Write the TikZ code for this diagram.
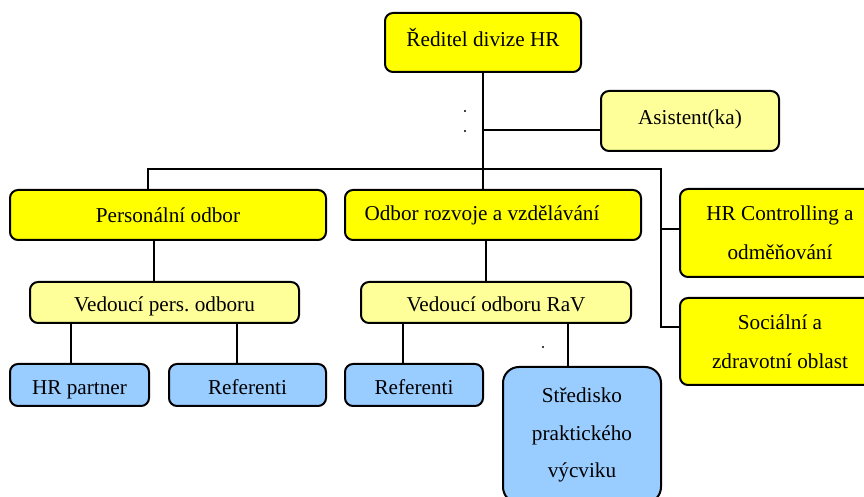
\documentclass[tikz,border=0pt]{standalone}
\usepackage{fontspec}
\setmainfont{Liberation Serif}
\definecolor{yel}{HTML}{FFFF00}
\definecolor{lyel}{HTML}{FFFF99}
\definecolor{lblue}{HTML}{99CCFF}
\begin{document}
\begin{tikzpicture}[x=0.5pt,y=-0.5pt,
  box/.style={draw, line width=1pt, rounded corners=4pt, inner sep=0pt, align=center,
    font=\fontsize{10.6pt}{19.5pt}\selectfont},
  low/.style={text height=9.2pt, text depth=0pt},
  high/.style={text height=4pt, text depth=0pt},
  conn/.style={line width=0.8pt}]
\clip (0,0) rectangle (864,497);
\fill[white] (0,0) rectangle (864,497);
% nodes
\node[box, high, fill=yel, minimum width=98pt, minimum height=29.5pt] (red) at (483,42.5) {Ředitel divize HR};
\node[box, high, fill=lyel, minimum width=89pt, minimum height=30pt] (asi) at (690,121) {Asistent(ka)};
\node[box, fill=yel, minimum width=158pt, minimum height=25pt] (pers) at (168,215) {Personální odbor};
\node[box, fill=yel, minimum width=148pt, minimum height=25pt] (rozv) at (493,215) {Odbor rozvoje a vzdělávání\hspace*{11pt}};
\node[box, fill=yel, minimum width=100pt, minimum height=44pt] (hrc) at (780,233) {HR Controlling a\\odměňování};
\node[box, fill=yel, minimum width=100pt, minimum height=43.5pt] (soc) at (780,341.5) {Sociální a\\zdravotní oblast};
\node[box, low, fill=lyel, minimum width=134.5pt, minimum height=20.5pt] (vedp) at (164.5,302.5) {Vedoucí pers.\ odboru};
\node[box, low, fill=lyel, minimum width=135pt, minimum height=20.5pt] (vedr) at (496,302.5) {Vedoucí odboru RaV};
\node[box, low, fill=lblue, minimum width=69.5pt, minimum height=21pt] (hrp) at (79.5,385) {HR partner};
\node[box, low, fill=lblue, minimum width=78.5pt, minimum height=21pt] (ref1) at (247.5,385) {Referenti};
\node[box, low, fill=lblue, minimum width=69pt, minimum height=21pt] (ref2) at (414,385) {Referenti};
\node[box, fill=lblue, rounded corners=8pt, minimum width=79pt, minimum height=68pt,
  font=\fontsize{10.6pt}{18.75pt}\selectfont] (str) at (582,435) {Středisko\\praktického\\výcviku};
% helper coordinates
\coordinate (busL) at (148,169);
\coordinate (busR) at (661,169);
\coordinate (xp) at (154,0);
\coordinate (xr) at (486,0);
\coordinate (x1) at (71,0);
\coordinate (x2) at (237,0);
\coordinate (x3) at (403,0);
\coordinate (x4) at (568,0);
\coordinate (asiin) at ([yshift=-4.5pt]asi.west);
\coordinate (hrcin) at ([yshift=2pt]hrc.west);
\coordinate (socin) at ([yshift=7.25pt]soc.west);
% connectors
\draw[conn] (red.south) -- (red.south |- rozv.north);
\draw[conn] (red.south |- asiin) -- (asiin);
\draw[conn] (pers.north -| busL) -- (busL) -- (busR) |- (socin);
\draw[conn] (busR |- hrcin) -- (hrcin);
\draw[conn] (pers.south -| xp) -- (vedp.north -| xp);
\draw[conn] (rozv.south -| xr) -- (vedr.north -| xr);
\draw[conn] (vedp.south -| x1) -- (hrp.north -| x1);
\draw[conn] (vedp.south -| x2) -- (ref1.north -| x2);
\draw[conn] (vedr.south -| x3) -- (ref2.north -| x3);
\draw[conn] (vedr.south -| x4) -- (str.north -| x4);
% stray dots
\fill (465,111) circle (0.6pt);
\fill (465,131) circle (0.6pt);
\fill (543,347) circle (0.6pt);
\end{tikzpicture}
\end{document}
